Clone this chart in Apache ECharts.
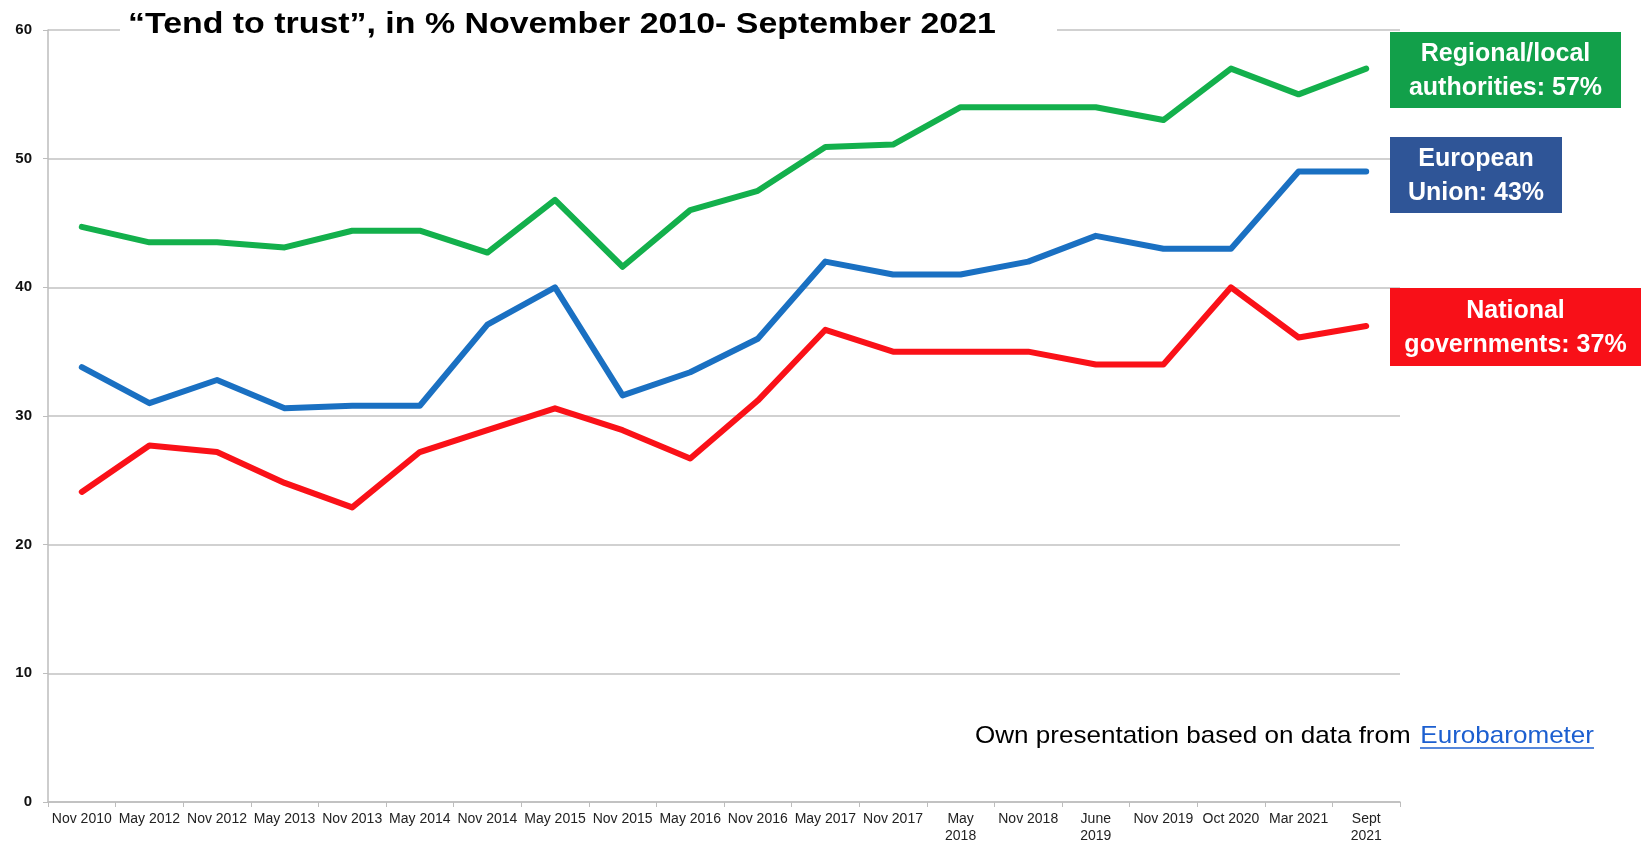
<!DOCTYPE html>
<html><head><meta charset="utf-8">
<script src="https://cdn.jsdelivr.net/npm/echarts@6/dist/echarts.min.js"></script>
<style>html,body{margin:0;padding:0;background:#fff}#c{width:1641px;height:845px}</style>
</head><body><div id="c"></div>
<script>
const categories = ["Nov 2010","May 2012","Nov 2012","May 2013","Nov 2013","May 2014","Nov 2014","May 2015","Nov 2015","May 2016","Nov 2016","May 2017","Nov 2017","May\n2018","Nov 2018","June\n2019","Nov 2019","Oct 2020","Mar 2021","Sept\n2021"];
const regional = [44.7,43.5,43.5,43.1,44.4,44.4,42.7,46.8,41.6,46.0,47.5,50.9,51.1,54,54,54,53,57,55,57];
const european = [33.8,31.0,32.8,30.6,30.8,30.8,37.1,40.0,31.6,33.4,36.0,42.0,41.0,41,42,44,43,43,49,49];
const national = [24.1,27.7,27.2,24.8,22.9,27.2,28.9,30.6,28.9,26.7,31.2,36.7,35.0,35,35,34,34,40,36.1,37.0];
const yTicks = [0,10,20,30,40,50,60];
const titleText = "\u201cTend to trust\u201d, in % November 2010- September 2021";
const sourceText = "Own presentation based on data from ";
const linkText = "Eurobarometer";
const boxes = [
  {text:"Regional/local\nauthorities: 57%", color:"#12a04a", x:1390, y:32, w:231, h:76},
  {text:"European\nUnion: 43%", color:"#2f5597", x:1390, y:137, w:172, h:76},
  {text:"National\ngovernments: 37%", color:"#f81018", x:1390, y:288, w:251, h:78}
];
const chart = echarts.init(document.getElementById('c'));
const FONT = '"Liberation Sans", Arial, Helvetica, sans-serif';
const mkLine = (name, data, color) => ({
  name, type:'line', data, symbol:'none', smooth:false, z:3,
  lineStyle:{color, width:6, cap:'round', join:'round'}, itemStyle:{color}
});
const graphics = [];
graphics.push({type:'rect', left:120, top:22, shape:{width:937, height:16}, style:{fill:'#fff'}, z:5});
graphics.push({type:'text', x:128, y:25, scaleX:1.13, z:6,
  style:{text:titleText, fill:'#000', font:'bold 30px ' + FONT, align:'left', verticalAlign:'middle'}});
boxes.forEach(b => {
  graphics.push({type:'rect', left:b.x, top:b.y, shape:{width:b.w, height:b.h}, style:{fill:b.color}, z:10});
  graphics.push({type:'text', x:b.x + b.w/2, y:b.y + b.h/2 + 1, z:11,
    style:{text:b.text, fill:'#fff', font:'bold 25px ' + FONT, align:'center', verticalAlign:'middle', lineHeight:34}});
});
graphics.push({type:'text', x:975, y:736, scaleX:1.085, z:11, style:{text:sourceText, fill:'#000', font:'24px ' + FONT, align:'left', verticalAlign:'middle'}});
graphics.push({type:'text', x:1594, y:736, scaleX:1.085, z:11, style:{text:linkText, fill:'#1c5fd0', font:'24px ' + FONT, align:'right', verticalAlign:'middle'}});
graphics.push({type:'line', z:11, shape:{x1:1420, y1:748, x2:1594, y2:748}, style:{stroke:'#1c5fd0', lineWidth:1.5}});
chart.setOption({
  animation:false,
  backgroundColor:'#fff',
  grid:{left:48, right:241, top:30, bottom:42, containLabel:false},
  xAxis:{type:'category', data:categories, boundaryGap:true,
    axisLine:{lineStyle:{color:'#bdbdbd', width:1.5}},
    axisTick:{show:true, length:5, lineStyle:{color:'#bdbdbd'}},
    axisLabel:{interval:0, color:'#222', fontSize:14, margin:9, lineHeight:17, fontFamily:FONT}},
  yAxis:{type:'value', min:yTicks[0], max:yTicks[yTicks.length-1], interval:10,
    axisLine:{show:true, lineStyle:{color:'#bdbdbd', width:1.5}},
    axisTick:{show:true, inside:false, length:5, lineStyle:{color:'#bdbdbd'}},
    splitLine:{lineStyle:{color:'#c2c2c2', width:1.5}},
    axisLabel:{color:'#111', fontSize:15, fontWeight:'bold', margin:16, fontFamily:FONT}},
  series:[mkLine('Regional/local authorities', regional, '#13b04c'),
          mkLine('European Union', european, '#1a70c2'),
          mkLine('National governments', national, '#fa1118')],
  graphic:graphics
});
</script></body></html>
